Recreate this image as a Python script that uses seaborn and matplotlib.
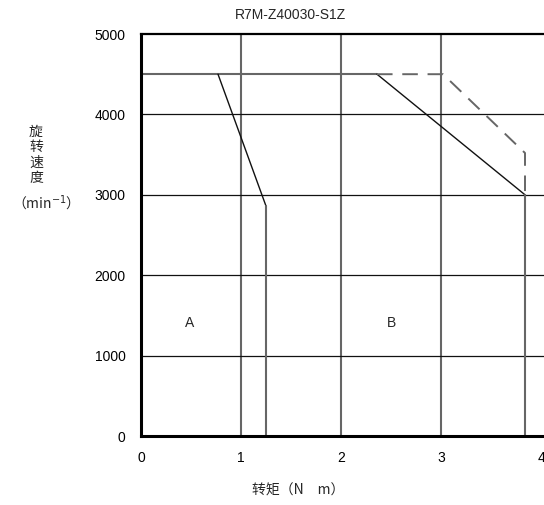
import matplotlib
matplotlib.use("Agg")
import matplotlib.pyplot as plt
import seaborn as sns

# 数据 (转矩 N·m, 旋转速度 min^-1)
a_torque = [0.77, 1.25, 1.25]
a_speed = [4500, 2860, 0]

top_torque = [0.0, 2.36]
top_speed = [4500, 4500]

b_torque = [2.36, 3.84]
b_speed = [4500, 3000]

rated_torque = [3.84, 3.84]
rated_speed = [3000, 0]

peak_torque = [2.36, 3.02, 3.84, 3.84]
peak_speed = [4500, 4500, 3520, 3000]

grid_x = [1, 2, 3]
grid_y = [1000, 2000, 3000, 4000]
x_ticks = [0, 1, 2, 3, 4]
y_ticks = [0, 1000, 2000, 3000, 4000, 5000]

sns.set_theme(style="white")
plt.rcParams['font.family'] = ['Liberation Sans', 'DejaVu Sans']
cjk = ['Noto Sans CJK SC', 'DejaVu Sans']

fig = plt.figure(figsize=(5.44, 5.05), dpi=100)
ax = fig.add_axes([141 / 544, 69 / 505, 403 / 544, 402 / 505])

grey = '#666666'
for gx in grid_x:
    ax.axvline(gx, color=grey, lw=1.5, zorder=1)
for gy in grid_y:
    ax.axhline(gy, color='#111111', lw=0.9, zorder=1)

sns.lineplot(x=top_torque, y=top_speed, color=grey, lw=1.5, sort=False, estimator=None, ax=ax)
sns.lineplot(x=a_torque[:2], y=a_speed[:2], color='#111111', lw=1.0, sort=False, estimator=None, ax=ax)
sns.lineplot(x=a_torque[1:], y=a_speed[1:], color=grey, lw=1.5, sort=False, estimator=None, ax=ax)
sns.lineplot(x=b_torque, y=b_speed, color='#111111', lw=1.0, sort=False, estimator=None, ax=ax)
sns.lineplot(x=rated_torque, y=rated_speed, color=grey, lw=1.5, sort=False, estimator=None, ax=ax)
sns.lineplot(x=peak_torque, y=peak_speed, color=grey, lw=1.4, sort=False, estimator=None,
             ax=ax, linestyle=(0, (8, 5)))

ax.text(0.49, 1400, 'A', ha='center', va='center', fontsize=10)
ax.text(2.5, 1400, 'B', ha='center', va='center', fontsize=10)

ax.set_xlim(0, 4.03)
ax.set_ylim(0, 5000)
ax.set_xticks(x_ticks)
ax.set_yticks(y_ticks)
ax.tick_params(axis='both', length=0, labelsize=10, colors='black')
ax.tick_params(axis='x', pad=11)
ax.tick_params(axis='y', pad=11)
ax.set_xlabel('')
ax.set_ylabel('')

ax.spines['right'].set_visible(False)
ax.spines['left'].set_linewidth(2.2)
ax.spines['bottom'].set_linewidth(2.2)
ax.spines['top'].set_linewidth(1.6)
for s in ['left', 'bottom', 'top']:
    ax.spines[s].set_color('black')

fig.text(290 / 544, 1 - 15 / 505, 'R7M-Z40030-S1Z', ha='center', va='center', fontsize=10)
fig.text(298 / 544, 1 - 491 / 505, '转矩（N　m）', ha='center', va='center', fontsize=10, family=cjk)
fig.text(36 / 544, 1 - 155 / 505, '旋\n转\n速\n度', ha='center', va='center', fontsize=10,
         linespacing=1.12, family=cjk)
fig.text(42 / 544, 1 - 203 / 505, '（min$^{-1}$）', ha='center', va='center', fontsize=10, family=cjk)

fig.savefig('out.png', dpi=100)
